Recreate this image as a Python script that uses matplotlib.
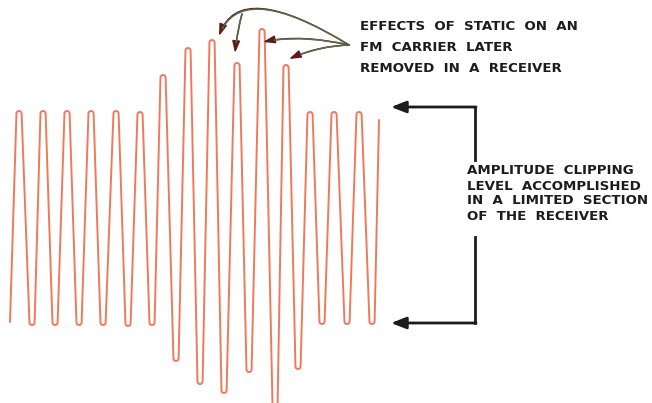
"""FM carrier with static peaks, clipped by the limiter."""
import matplotlib

matplotlib.use("Agg")
import matplotlib.pyplot as plt  # noqa: E402
import numpy as np  # noqa: E402
from matplotlib.patches import FancyArrowPatch  # noqa: E402
from matplotlib.path import Path  # noqa: E402

# wave extrema, in picture pixels (y grows downward)
peak_x = [19, 43, 67, 91, 116, 140, 163, 188, 212, 237, 262, 286, 310, 334, 359]
peak_y = [111, 111, 111, 111, 111, 112, 75, 48, 40, 63, 29, 65, 112, 112, 112]
trough_x = [32, 55, 79, 103, 128, 152, 176, 200, 224, 249, 275, 298, 322, 347, 372]
trough_y = [325, 325, 325, 325, 326, 325, 361, 384, 393, 372, 406, 369, 324, 324, 324]
wave_start = (10, 322)
wave_end = (379, 120)

static_label = ["EFFECTS  OF  STATIC  ON  AN", "FM  CARRIER  LATER",
                "REMOVED  IN  A  RECEIVER"]
clip_label = ["AMPLITUDE  CLIPPING", "LEVEL  ACCOMPLISHED",
              "IN  A  LIMITED  SECTION", "OF  THE  RECEIVER"]

WAVE = "#ee7a5c"
INK = "#1c1c1c"
GREEN = "#5b6a4c"
HEAD = "#5e1c16"


def wave_path(r=2.6):
    ext = [(x, y, 1) for x, y in zip(peak_x, peak_y)]
    ext += [(x, y, -1) for x, y in zip(trough_x, trough_y)]
    ext.sort()
    xs, ys = [wave_start[0]], [wave_start[1]]
    th = np.linspace(np.pi, 0, 14)
    for x, y, kind in ext:
        xs.extend(x + r * np.cos(th))
        ys.extend(y + kind * (r - r * np.sin(th)))
    xs.append(wave_end[0])
    ys.append(wave_end[1])
    return np.array(xs), np.array(ys)


def static_arrow(ax, a, c, b, cut=0.9):
    a, c, b = map(np.asarray, (a, c, b))
    codes = [Path.MOVETO, Path.CURVE3, Path.CURVE3]
    ax.add_patch(FancyArrowPatch(path=Path([a, c, b], codes), mutation_scale=1,
                                 arrowstyle="-|>,head_length=7,head_width=2.3",
                                 color=HEAD, lw=1.1, zorder=3))
    # green stroke over most of the curve, stops short of the head
    c2 = a + cut * (c - a)
    b2 = (1 - cut) ** 2 * a + 2 * cut * (1 - cut) * c + cut ** 2 * b
    ax.add_patch(FancyArrowPatch(path=Path([a, c2, b2], codes), arrowstyle="-",
                                 color=GREEN, lw=1.1, zorder=3))


fig = plt.figure(figsize=(6.52, 4.03), dpi=100)
ax = fig.add_axes([0, 0, 1, 1])
ax.set_xlim(0, 652)
ax.set_ylim(403, 0)
ax.axis("off")

wx, wy = wave_path()
ax.plot(wx, wy, color=WAVE, lw=1.4, solid_capstyle="round", zorder=2)

# static annotation arrows
hub = (349, 45)
static_arrow(ax, hub, (240, -22), (219, 36), cut=0.93)
static_arrow(ax, (242, 14), (237, 32), (235, 53), cut=0.75)
static_arrow(ax, hub, (300, 34), (263, 42), cut=0.85)
static_arrow(ax, hub, (318, 46), (289, 59), cut=0.8)

for i, line in enumerate(static_label):
    ax.text(360, 26 + i * 21.3, line, fontsize=9.6, fontweight="bold", color=INK,
            ha="left", va="center", family="DejaVu Sans")

for i, line in enumerate(clip_label):
    ax.text(467, 171 + i * 15, line, fontsize=9.6, fontweight="bold", color=INK,
            ha="left", va="center", family="DejaVu Sans")

# clipping level brackets
ax.plot([475, 475], [107, 160], color=INK, lw=2)
ax.plot([475, 475], [237, 323], color=INK, lw=2)
for y in (107, 323):
    ax.add_patch(FancyArrowPatch((476, y), (391, y), mutation_scale=1,
                                 arrowstyle="-|>,head_length=9,head_width=3.5",
                                 color=INK, lw=2, shrinkA=0, shrinkB=0))

fig.savefig("out.png", dpi=100)
plt.close(fig)
